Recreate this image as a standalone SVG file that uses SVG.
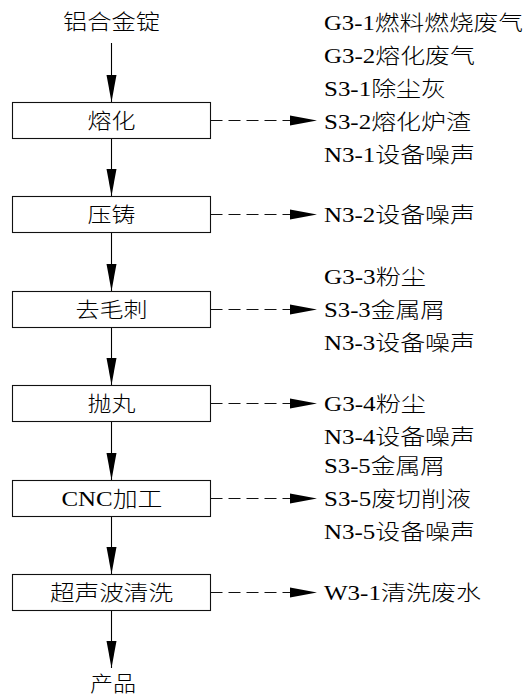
<svg xmlns="http://www.w3.org/2000/svg" width="528" height="695" viewBox="0 0 528 695">
<style>
text{font-family:"Liberation Serif","Noto Sans CJK SC",serif;font-size:21px;fill:#000;font-weight:300}
.c{text-anchor:middle}
.box{fill:#fff;stroke:#111;stroke-width:1.1}
.flow{stroke:#000;stroke-width:1.1;fill:none;marker-end:url(#ah)}
.dash{stroke:#111;stroke-width:1.1;fill:none;stroke-dasharray:12 6;marker-end:url(#ah)}
</style>
<defs>
<marker id="ah" markerUnits="userSpaceOnUse" markerWidth="28" markerHeight="11" refX="27" refY="5.5" orient="auto">
<path d="M0,0.5 L27,5.5 L0,10.5 z" fill="#000"/>
</marker>
</defs>
<rect width="528" height="695" fill="#fff"/>
<g id="connectors">
<line class="flow" x1="111.5" y1="43" x2="111.5" y2="102"/>
<line class="flow" x1="111.5" y1="138" x2="111.5" y2="196"/>
<line class="flow" x1="111.5" y1="232" x2="111.5" y2="291"/>
<line class="flow" x1="111.5" y1="327" x2="111.5" y2="385"/>
<line class="flow" x1="111.5" y1="422" x2="111.5" y2="480"/>
<line class="flow" x1="111.5" y1="516" x2="111.5" y2="574"/>
<line class="flow" x1="111.5" y1="610" x2="111.5" y2="668"/>
<line class="dash" x1="210.5" y1="120.5" x2="317" y2="120.5"/>
<line class="dash" x1="210.5" y1="214.5" x2="317" y2="214.5"/>
<line class="dash" x1="210.5" y1="309.5" x2="317" y2="309.5"/>
<line class="dash" x1="210.5" y1="403.5" x2="317" y2="403.5"/>
<line class="dash" x1="210.5" y1="498.5" x2="317" y2="498.5"/>
<line class="dash" x1="210.5" y1="592.5" x2="317" y2="592.5"/>
</g>
<g id="input"><text class="c" x="111.5" y="29" textLength="97" lengthAdjust="spacingAndGlyphs">铝合金锭</text></g>
<g id="melt"><rect class="box" x="12.5" y="102.5" width="198" height="36"/><text class="c" x="111.5" y="127.5" textLength="48" lengthAdjust="spacingAndGlyphs">熔化</text></g>
<g id="diecast"><rect class="box" x="12.5" y="196.5" width="198" height="36"/><text class="c" x="111.5" y="221.5" textLength="48" lengthAdjust="spacingAndGlyphs">压铸</text></g>
<g id="deburr"><rect class="box" x="12.5" y="291.5" width="198" height="36"/><text class="c" x="111.5" y="316.5" textLength="72" lengthAdjust="spacingAndGlyphs">去毛刺</text></g>
<g id="shot"><rect class="box" x="12.5" y="385.5" width="198" height="36"/><text class="c" x="111.5" y="411" textLength="48" lengthAdjust="spacingAndGlyphs">抛丸</text></g>
<g id="cnc"><rect class="box" x="12.5" y="480.5" width="198" height="36"/><text class="c" x="112" y="505.5" textLength="101" lengthAdjust="spacingAndGlyphs">CNC加工</text></g>
<g id="clean"><rect class="box" x="12.5" y="574.5" width="198" height="36"/><text class="c" x="111.5" y="599.5" textLength="123" lengthAdjust="spacingAndGlyphs">超声波清洗</text></g>
<g id="product"><text class="c" x="113" y="691" textLength="46" lengthAdjust="spacingAndGlyphs">产品</text></g>
<g id="out-melt">
<text x="324" y="29.5" textLength="199" lengthAdjust="spacingAndGlyphs">G3-1燃料燃烧废气</text>
<text x="324" y="62.5" textLength="151" lengthAdjust="spacingAndGlyphs">G3-2熔化废气</text>
<text x="324" y="95.5" textLength="122" lengthAdjust="spacingAndGlyphs">S3-1除尘灰</text>
<text x="324" y="128.5" textLength="147" lengthAdjust="spacingAndGlyphs">S3-2熔化炉渣</text>
<text x="324" y="161.5" textLength="151" lengthAdjust="spacingAndGlyphs">N3-1设备噪声</text>
</g>
<g id="out-diecast">
<text x="324" y="221.5" textLength="151" lengthAdjust="spacingAndGlyphs">N3-2设备噪声</text>
</g>
<g id="out-deburr">
<text x="324" y="283.5" textLength="102" lengthAdjust="spacingAndGlyphs">G3-3粉尘</text>
<text x="324" y="316.5" textLength="121" lengthAdjust="spacingAndGlyphs">S3-3金属屑</text>
<text x="324" y="349.5" textLength="151" lengthAdjust="spacingAndGlyphs">N3-3设备噪声</text>
</g>
<g id="out-shot">
<text x="324" y="411" textLength="102" lengthAdjust="spacingAndGlyphs">G3-4粉尘</text>
<text x="324" y="444" textLength="151" lengthAdjust="spacingAndGlyphs">N3-4设备噪声</text>
</g>
<g id="out-cnc">
<text x="324" y="472.5" textLength="121" lengthAdjust="spacingAndGlyphs">S3-5金属屑</text>
<text x="324" y="505.5" textLength="147" lengthAdjust="spacingAndGlyphs">S3-5废切削液</text>
<text x="324" y="538.5" textLength="151" lengthAdjust="spacingAndGlyphs">N3-5设备噪声</text>
</g>
<g id="out-clean">
<text x="324" y="599.5" textLength="157" lengthAdjust="spacingAndGlyphs">W3-1清洗废水</text>
</g>
</svg>
